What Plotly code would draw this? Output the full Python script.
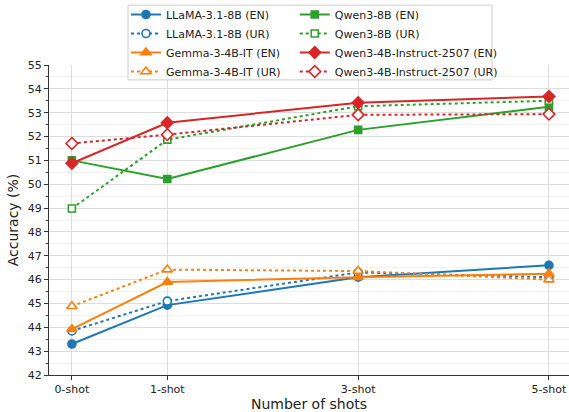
import plotly.graph_objects as go

shots = [0, 1, 3, 5]
shot_labels = ["0-shot", "1-shot", "3-shot", "5-shot"]

llama_en = [43.3, 44.93, 46.1, 46.6]
llama_ur = [43.85, 45.1, 46.3, 46.1]
gemma_en = [43.92, 45.9, 46.1, 46.25]
gemma_ur = [44.88, 46.42, 46.36, 46.0]
qwen8_en = [51.0, 50.22, 52.28, 53.25]
qwen8_ur = [48.98, 51.87, 53.27, 53.5]
qwen4_en = [50.88, 52.58, 53.42, 53.68]
qwen4_ur = [51.71, 52.08, 52.91, 52.94]

BLUE, ORANGE, GREEN, RED = "#1f77b4", "#ff7f0e", "#2ca02c", "#d62728"

series = [
    ("LLaMA-3.1-8B (EN)", llama_en, BLUE, "circle", False, "legend"),
    ("LLaMA-3.1-8B (UR)", llama_ur, BLUE, "circle", True, "legend"),
    ("Gemma-3-4B-IT (EN)", gemma_en, ORANGE, "triangle-up", False, "legend"),
    ("Gemma-3-4B-IT (UR)", gemma_ur, ORANGE, "triangle-up", True, "legend"),
    ("Qwen3-8B (EN)", qwen8_en, GREEN, "square", False, "legend2"),
    ("Qwen3-8B (UR)", qwen8_ur, GREEN, "square", True, "legend2"),
    ("Qwen3-4B-Instruct-2507 (EN)", qwen4_en, RED, "diamond", False, "legend2"),
    ("Qwen3-4B-Instruct-2507 (UR)", qwen4_ur, RED, "diamond", True, "legend2"),
]

fig = go.Figure()
for name, ys, color, sym, ur, lg in series:
    size = {"circle": 8, "square": 7, "triangle-up": 9, "diamond": 9}[sym]
    fig.add_trace(go.Scatter(
        x=shots, y=ys, name=name, mode="lines+markers", legend=lg,
        line=dict(color=color, width=2, dash="dot" if ur else "solid"),
        marker=dict(symbol=sym, size=size, color="white" if ur else color,
                    line=dict(color=color, width=1.6)),
    ))

font = "DejaVu Sans"
legend_common = dict(
    orientation="v", yanchor="top", y=1.209, xanchor="left",
    bgcolor="rgba(0,0,0,0)", borderwidth=0,
    font=dict(size=11, family=font, color="#222"),
    tracegroupgap=0, itemwidth=30,
)
fig.update_layout(
    width=569, height=412,
    margin=dict(l=49, r=0, t=64, b=37),
    plot_bgcolor="white", paper_bgcolor="white",
    font=dict(family=font, size=11, color="#222"),
    showlegend=True,
    legend=dict(x=0.148, **legend_common),
    legend2=dict(x=0.4726, **legend_common),
    shapes=[dict(
        type="rect", xref="paper", yref="paper",
        x0=0.152, x1=0.852, y0=0.952, y1=1.193,
        line=dict(color="#cccccc", width=1),
        fillcolor="rgba(255,255,255,0.85)", layer="above",
    )],
    xaxis=dict(
        range=[-0.24, 5.21], tickvals=shots, ticktext=shot_labels,
        showgrid=True, gridcolor="#dddddd", gridwidth=1,
        ticks="outside", ticklen=4, tickcolor="#333",
        showline=True, linecolor="#333", linewidth=1, zeroline=False,
        title=dict(text="Number of shots", font=dict(size=14), standoff=5),
        tickfont=dict(size=11),
    ),
    yaxis=dict(
        range=[42, 55], dtick=1, tick0=42,
        showgrid=True, gridcolor="#dddddd", gridwidth=1,
        ticks="outside", ticklen=4, tickcolor="#333",
        showline=True, linecolor="#333", linewidth=1, zeroline=False,
        minor=dict(dtick=0.5, ticks="outside", ticklen=2.5, tickcolor="#333",
                   showgrid=True, gridcolor="#f2f2f2"),
        title=dict(text="Accuracy (%)", font=dict(size=14), standoff=5),
        tickfont=dict(size=11),
    ),
)

fig.write_html("out.html", config={"displayModeBar": False},
               post_script="document.body.style.margin='0';")
